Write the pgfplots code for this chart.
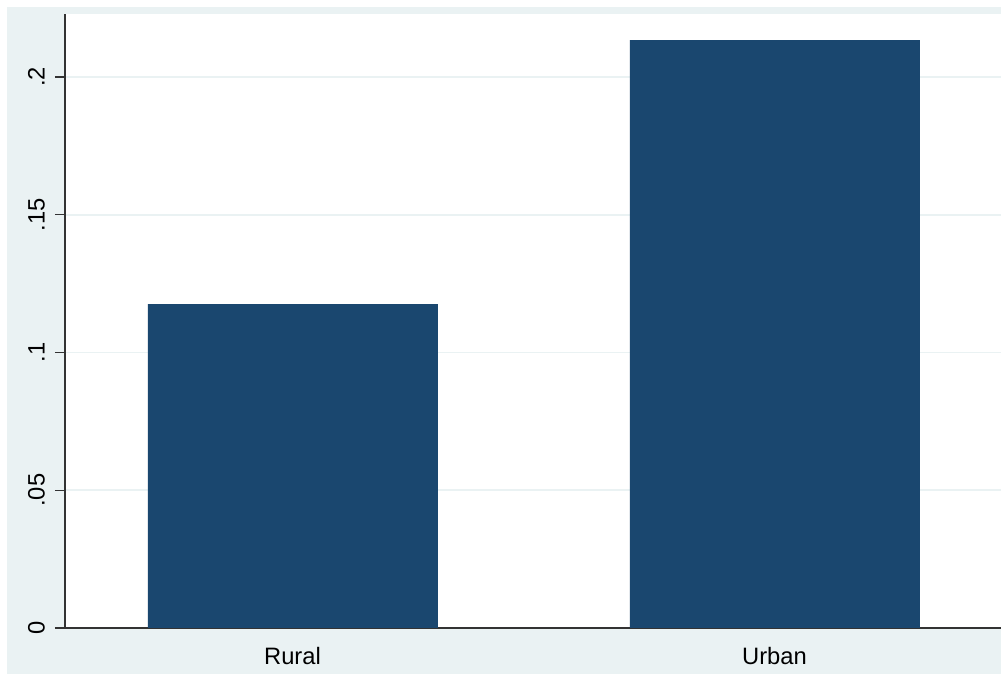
\documentclass[border=0pt]{standalone}
\usepackage{pgfplots}
\pgfplotsset{compat=1.18}
\usepackage{fontspec}
\setmainfont{Liberation Sans}
\definecolor{bgc}{HTML}{EAF2F3}
\definecolor{barc}{HTML}{1A476F}
\definecolor{axc}{HTML}{333333}
\begin{document}
\begin{tikzpicture}
\path[use as bounding box] (0pt,0pt) rectangle (750.75pt,505.5pt);
\fill[bgc] (5.25pt,0pt) rectangle (750.75pt,500.25pt);
\begin{axis}[
  at={(48.75pt,34.5pt)}, anchor=south west,
  scale only axis, width=702pt, height=460.5pt,
  xmin=0.528, xmax=2.47, ymin=0, ymax=0.2229,
  axis background/.style={fill=white},
  axis x line*=bottom, axis y line*=left,
  axis line style={-, draw=axc, line width=0.9pt},
  xtick={1,2}, xticklabels={Rural,Urban},
  x tick style={draw=none},
  ytick={0,0.05,0.1,0.15,0.2}, yticklabels={0,.05,.1,.15,.2},
  y tick style={draw=axc, line width=0.9pt},
  tick align=outside, major tick length=7.5pt,
  ymajorgrids, grid style={draw=bgc, line width=1.2pt},
  tick label style={font=\fontsize{17.8}{20}\selectfont},
  yticklabel style={rotate=90, anchor=south, inner sep=0pt, yshift=7.5pt},
  xticklabel style={anchor=north, inner sep=0pt, yshift=-6.5pt},
  /pgf/number format/assume math mode=true,
]
\addplot[ybar, bar width=0.6, fill=barc, draw=barc, line width=0.5pt] coordinates {(1,0.1176) (2,0.2134)};
\end{axis}
\end{tikzpicture}
\end{document}
